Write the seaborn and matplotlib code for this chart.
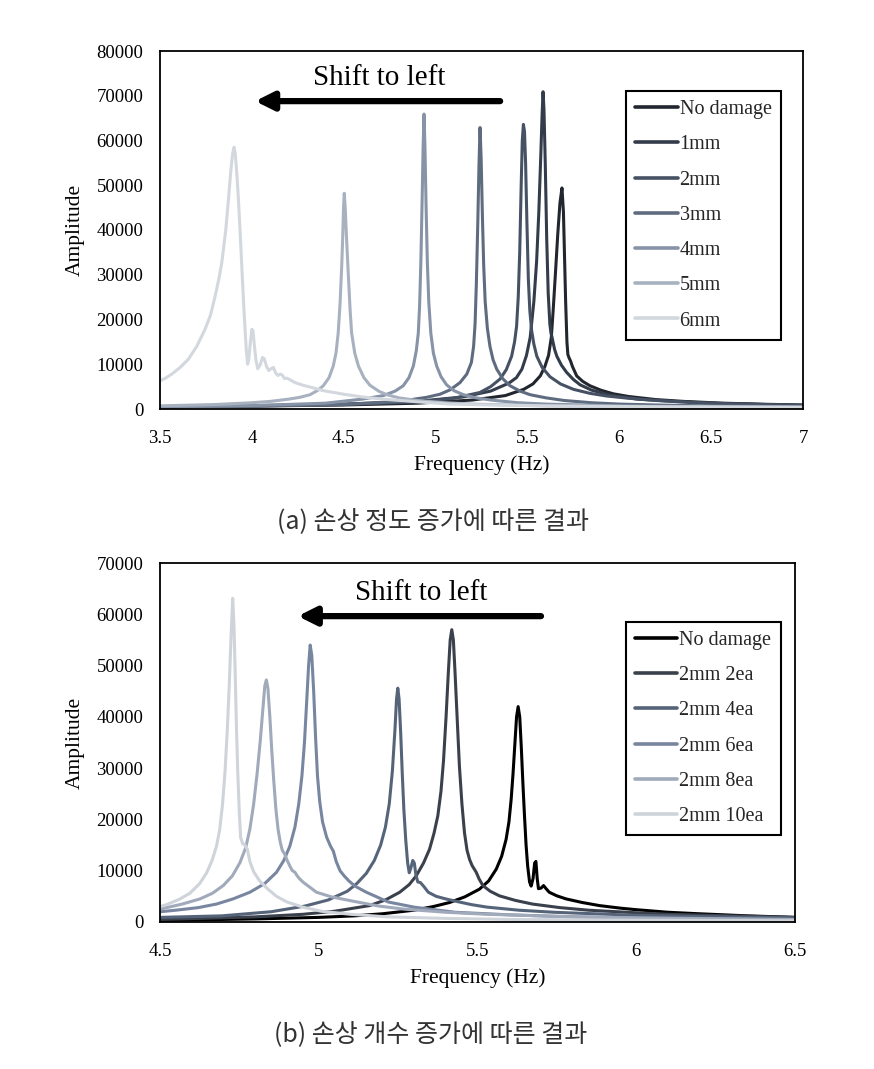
import numpy as np
import pandas as pd
import matplotlib
matplotlib.use("Agg")
import matplotlib.pyplot as plt
from matplotlib.lines import Line2D
import seaborn as sns

# ---------------- data: (a) damage size ----------------
a_names = ["No damage", "1mm", "2mm", "3mm", "4mm", "5mm", "6mm"]

a_nd_f = [3.5, 4.0, 4.5, 4.9, 5.2, 5.38, 5.48, 5.53, 5.57, 5.595, 5.615, 5.63, 5.64, 5.652, 5.665, 5.677, 5.688, 5.696, 5.702, 5.708, 5.715, 5.72, 5.726, 5.735, 5.745, 5.768, 5.8, 5.84, 5.9, 5.967, 6.05, 6.2, 6.35, 6.565, 6.8, 7.0]
a_nd_a = [500, 650, 900, 1300, 2000, 3000, 4400, 5600, 7400, 9500, 12000, 16000, 22000, 30000, 39000, 46000, 49400, 44000, 34000, 24000, 15000, 12200, 11500, 10700, 9500, 7400, 6200, 5200, 4200, 3400, 2800, 2100, 1700, 1300, 1050, 900]

a_1_f = [3.5, 4.0, 4.5, 4.9, 5.15, 5.3, 5.4, 5.44, 5.47, 5.495, 5.515, 5.535, 5.55, 5.562, 5.573, 5.58, 5.585, 5.59, 5.597, 5.605, 5.613, 5.622, 5.628, 5.633, 5.638, 5.648, 5.66, 5.685, 5.713, 5.75, 5.787, 5.85, 5.95, 6.1, 6.3, 6.5, 7.0]
a_1_a = [550, 750, 1100, 1700, 2700, 4000, 5800, 7000, 8900, 12000, 16000, 24000, 33000, 44000, 57000, 66000, 70900, 67000, 55000, 38000, 26000, 19000, 17000, 16200, 15200, 13300, 11800, 9800, 8200, 6600, 5400, 4200, 3100, 2200, 1700, 1300, 800]

a_2_f = [3.5, 4.0, 4.5, 4.9, 5.1, 5.242, 5.3, 5.351, 5.385, 5.414, 5.43, 5.441, 5.45, 5.458, 5.466, 5.472, 5.478, 5.484, 5.49, 5.497, 5.505, 5.513, 5.523, 5.535, 5.551, 5.58, 5.623, 5.68, 5.75, 5.84, 5.932, 6.05, 6.2, 6.4, 6.6, 7.0]
a_2_a = [500, 700, 1000, 1600, 2400, 3700, 5000, 6700, 8800, 11800, 15000, 18500, 25000, 35000, 50000, 60000, 63600, 62000, 55000, 42000, 29000, 22000, 17500, 14500, 11800, 9300, 7200, 5600, 4400, 3500, 2900, 2400, 1900, 1450, 1150, 800]

a_3_f = [3.5, 4.0, 4.5, 4.8, 4.95, 5.024, 5.08, 5.133, 5.17, 5.195, 5.207, 5.215, 5.222, 5.23, 5.236, 5.242, 5.248, 5.255, 5.262, 5.27, 5.282, 5.296, 5.313, 5.333, 5.365, 5.405, 5.46, 5.514, 5.6, 5.7, 5.85, 6.0, 6.25, 6.5, 7.0]
a_3_a = [450, 650, 1000, 1700, 2600, 3300, 4300, 5900, 7800, 10400, 14000, 19000, 28000, 42000, 54000, 62900, 56000, 43000, 32000, 24000, 18000, 14000, 11000, 8900, 6800, 5200, 4000, 3200, 2500, 1900, 1400, 1100, 850, 700, 500]

a_4_f = [3.5, 4.0, 4.4, 4.6, 4.716, 4.78, 4.824, 4.855, 4.879, 4.895, 4.906, 4.913, 4.92, 4.927, 4.932, 4.937, 4.942, 4.948, 4.955, 4.963, 4.974, 4.988, 5.006, 5.03, 5.06, 5.1, 5.151, 5.22, 5.3, 5.45, 5.6, 6.0, 6.5, 7.0]
a_4_a = [500, 750, 1300, 2200, 3000, 4000, 5200, 7000, 9600, 13000, 17000, 23000, 33000, 47000, 58000, 65900, 59000, 46000, 33000, 24000, 17000, 12500, 9600, 7200, 5400, 4100, 3200, 2500, 2000, 1400, 1100, 700, 500, 400]

a_5_f = [3.5, 3.8, 4.0, 4.1, 4.2, 4.26, 4.317, 4.36, 4.389, 4.42, 4.443, 4.458, 4.47, 4.48, 4.489, 4.495, 4.499, 4.503, 4.508, 4.515, 4.525, 4.535, 4.543, 4.56, 4.58, 4.61, 4.643, 4.69, 4.734, 4.8, 4.9, 5.05, 5.2, 5.6, 6.2, 7.0]
a_5_a = [700, 1000, 1400, 1700, 2200, 2600, 3200, 4200, 5200, 7000, 9600, 12500, 17000, 23500, 31800, 39000, 45000, 48200, 45000, 38500, 30000, 22000, 17000, 12500, 9600, 7000, 5300, 4000, 3200, 2500, 1900, 1400, 1100, 700, 500, 350]

a_6_f = [3.5, 3.53, 3.564, 3.61, 3.654, 3.7, 3.745, 3.775, 3.8, 3.82, 3.836, 3.858, 3.872, 3.885, 3.895, 3.903, 3.91, 3.92, 3.928, 3.935, 3.948, 3.956, 3.963, 3.97, 3.977, 3.983, 3.992, 4.0, 4.006, 4.013, 4.022, 4.032, 4.045, 4.058, 4.068, 4.08, 4.092, 4.105, 4.117, 4.13, 4.142, 4.155, 4.165, 4.178, 4.19, 4.2, 4.235, 4.28, 4.326, 4.389, 4.5, 4.6, 4.716, 4.9, 5.08, 5.3, 5.6, 6.2, 7.0]
a_6_a = [6300, 6900, 7800, 9300, 11100, 14000, 17800, 21000, 25200, 29000, 32600, 40000, 46500, 53000, 57000, 58500, 57000, 51500, 46000, 40500, 29500, 23000, 17800, 13000, 10000, 11000, 15000, 17800, 17500, 14500, 11000, 9000, 9800, 11500, 11200, 9500, 8600, 9000, 9300, 8000, 7500, 7800, 7600, 6800, 6900, 6700, 5900, 5300, 4800, 4100, 3300, 2700, 2200, 1600, 1100, 900, 700, 500, 400]

# ---------------- data: (b) damage count ----------------
b_names = ["No damage", "2mm 2ea", "2mm 4ea", "2mm 6ea", "2mm 8ea", "2mm 10ea"]

b_nd_f = [4.5, 4.8, 5.0, 5.113, 5.2, 5.3, 5.36, 5.412, 5.46, 5.506, 5.535, 5.559, 5.576, 5.59, 5.599, 5.606, 5.612, 5.618, 5.623, 5.628, 5.633, 5.638, 5.643, 5.648, 5.653, 5.658, 5.664, 5.669, 5.675, 5.68, 5.684, 5.688, 5.692, 5.7, 5.708, 5.716, 5.726, 5.75, 5.779, 5.83, 5.884, 5.95, 6.0, 6.1, 6.2, 6.35, 6.5]
b_nd_a = [300, 600, 900, 1200, 1600, 2300, 3000, 3800, 4900, 6400, 8000, 10300, 12800, 16100, 19500, 23900, 29000, 35000, 40000, 42000, 40000, 34000, 27000, 20700, 15000, 10900, 7800, 7000, 8500, 11500, 11800, 8500, 6500, 6600, 7100, 6500, 5800, 5100, 4500, 3800, 3200, 2700, 2400, 1900, 1600, 1200, 900]

b_2_f = [4.5, 4.8, 4.95, 5.05, 5.16, 5.21, 5.255, 5.285, 5.307, 5.33, 5.349, 5.363, 5.375, 5.385, 5.393, 5.401, 5.408, 5.414, 5.419, 5.424, 5.429, 5.435, 5.443, 5.451, 5.459, 5.467, 5.475, 5.483, 5.49, 5.496, 5.505, 5.517, 5.54, 5.569, 5.62, 5.673, 5.76, 5.85, 6.0, 6.1, 6.3, 6.5]
b_2_a = [500, 1000, 1500, 2100, 3200, 4300, 5800, 7300, 9000, 11500, 14200, 17300, 20700, 25500, 31500, 40000, 48500, 55000, 57000, 55000, 49000, 41000, 30400, 23000, 17400, 14000, 12200, 11000, 10300, 9700, 8400, 7100, 6000, 5100, 4200, 3500, 2800, 2300, 1800, 1500, 1200, 900]

b_4_f = [4.5, 4.695, 4.85, 4.956, 5.03, 5.09, 5.12, 5.15, 5.175, 5.195, 5.21, 5.222, 5.232, 5.24, 5.245, 5.249, 5.253, 5.258, 5.263, 5.268, 5.274, 5.28, 5.285, 5.29, 5.296, 5.301, 5.306, 5.312, 5.32, 5.33, 5.345, 5.37, 5.4, 5.428, 5.48, 5.53, 5.63, 5.74, 6.0, 6.25, 6.5]
b_4_a = [900, 1200, 2000, 3100, 4300, 6000, 7500, 9500, 12000, 15000, 18500, 23000, 29500, 37500, 43500, 45600, 43500, 37000, 29000, 22000, 16000, 11500, 9600, 10500, 12000, 11500, 9200, 7800, 7700, 7000, 5800, 5000, 4500, 4100, 3400, 2900, 2300, 1900, 1300, 1000, 800]

b_6_f = [4.5, 4.55, 4.62, 4.678, 4.73, 4.783, 4.83, 4.867, 4.89, 4.909, 4.925, 4.937, 4.947, 4.955, 4.962, 4.968, 4.973, 4.978, 4.984, 4.99, 4.996, 5.003, 5.012, 5.025, 5.037, 5.046, 5.055, 5.067, 5.08, 5.095, 5.114, 5.15, 5.219, 5.3, 5.429, 5.6, 5.8, 6.2, 6.5]
b_6_a = [2000, 2300, 2800, 3500, 4500, 5800, 7500, 9700, 12000, 14800, 18500, 23000, 28500, 35000, 43000, 50000, 54000, 52000, 45000, 36000, 28500, 23500, 19500, 16500, 14800, 13800, 11800, 10000, 9000, 8000, 7000, 5800, 3900, 2900, 1900, 1400, 1000, 600, 450]

b_8_f = [4.5, 4.521, 4.57, 4.626, 4.665, 4.699, 4.728, 4.752, 4.77, 4.783, 4.795, 4.806, 4.816, 4.824, 4.83, 4.835, 4.84, 4.846, 4.852, 4.858, 4.865, 4.872, 4.879, 4.885, 4.893, 4.9, 4.909, 4.917, 4.925, 4.932, 4.94, 4.952, 4.965, 4.993, 5.04, 5.113, 5.19, 5.27, 5.4, 5.53, 5.75, 6.0, 6.5]
b_8_a = [2500, 2800, 3500, 4500, 5600, 7100, 9000, 11600, 14500, 18100, 23000, 29000, 35500, 41500, 46000, 47200, 45500, 40000, 33500, 27800, 22000, 18000, 15500, 14000, 13200, 12100, 10900, 10000, 9700, 9000, 8400, 7700, 7100, 5800, 4900, 4000, 3100, 2500, 1900, 1500, 1100, 800, 500]

b_10_f = [4.5, 4.521, 4.56, 4.594, 4.625, 4.647, 4.664, 4.678, 4.688, 4.697, 4.705, 4.712, 4.718, 4.724, 4.729, 4.733, 4.737, 4.741, 4.745, 4.75, 4.754, 4.76, 4.767, 4.775, 4.783, 4.795, 4.814, 4.84, 4.867, 4.9, 4.95, 5.008, 5.1, 5.217, 5.4, 5.6, 6.0, 6.5]
b_10_a = [3000, 3400, 4400, 5600, 7500, 9600, 12000, 14800, 18000, 23000, 29500, 37500, 46000, 56000, 63100, 58000, 48000, 37500, 29000, 21000, 16500, 15300, 15000, 14200, 11800, 9800, 8000, 6400, 5000, 3900, 2900, 2100, 1500, 1000, 700, 500, 350, 250]

# axis ticks
a_xticks = [3.5, 4, 4.5, 5, 5.5, 6, 6.5, 7]
a_xlabels = ["3.5", "4", "4.5", "5", "5.5", "6", "6.5", "7"]
a_yticks = [0, 10000, 20000, 30000, 40000, 50000, 60000, 70000, 80000]
b_xticks = [4.5, 5, 5.5, 6, 6.5]
b_xlabels = ["4.5", "5", "5.5", "6", "6.5"]
b_yticks = [0, 10000, 20000, 30000, 40000, 50000, 60000, 70000]

captions = ["(a) 손상 정도 증가에 따른 결과", "(b) 손상 개수 증가에 따른 결과"]

# ---------------- styling ----------------
a_colors = ["#22262e", "#333c4a", "#465264", "#5f6c80", "#8793a6", "#a8b1bf", "#d3d7de"]
b_colors = ["#000000", "#3b414c", "#56647a", "#7886a0", "#a0aabb", "#cfd3da"]

sns.set_theme(style="white")
plt.rcParams["font.family"] = ["Liberation Serif", "DejaVu Serif"]
plt.rcParams["axes.unicode_minus"] = False


def long_df(names, fs, amps):
    rows = []
    for n, f, a in zip(names, fs, amps):
        rows.append(pd.DataFrame({"series": n, "freq": f, "amp": a}))
    return pd.concat(rows, ignore_index=True)


df_a = long_df(a_names,
               [a_nd_f, a_1_f, a_2_f, a_3_f, a_4_f, a_5_f, a_6_f],
               [a_nd_a, a_1_a, a_2_a, a_3_a, a_4_a, a_5_a, a_6_a])
df_b = long_df(b_names,
               [b_nd_f, b_2_f, b_4_f, b_6_f, b_8_f, b_10_f],
               [b_nd_a, b_2_a, b_4_a, b_6_a, b_8_a, b_10_a])

W, H = 874, 1069
fig = plt.figure(figsize=(W / 100, H / 100), dpi=100)
fig.patch.set_facecolor("white")
ax1 = fig.add_axes([160 / W, 1 - 409 / H, 643 / W, 358 / H])
ax2 = fig.add_axes([160 / W, 1 - 922 / H, 635 / W, 359 / H])


def draw(ax, df, names, colors, xticks, xlabels, yticks, legend_anchor,
         arrow_x, arrow_y, text_xy, ylab_x):
    pal = dict(zip(names, colors))
    sns.lineplot(data=df, x="freq", y="amp", hue="series", hue_order=names,
                 palette=pal, estimator=None, sort=False, lw=2.2, ax=ax,
                 legend=False)
    for ln in ax.get_lines():
        ln.set_solid_joinstyle("round")
        ln.set_solid_capstyle("round")
    ax.set_xlim(xticks[0], xticks[-1])
    ax.set_ylim(yticks[0], yticks[-1])
    ax.set_xticks(xticks)
    ax.set_xticklabels(xlabels)
    ax.set_yticks(yticks)
    ax.set_yticklabels([str(v) for v in yticks])
    ax.tick_params(axis="both", length=0, labelsize=13.5, colors="black")
    ax.tick_params(axis="y", pad=12)
    ax.tick_params(axis="x", pad=15)
    for s in ax.spines.values():
        s.set_visible(True)
        s.set_color("black")
        s.set_linewidth(1.3)
    ax.set_facecolor("white")
    ax.grid(False)
    ax.set_xlabel("Frequency (Hz)", fontsize=15.5, color="black")
    ax.set_ylabel("Amplitude", fontsize=15.5, color="black")
    ax.xaxis.set_label_coords(0.5, -0.128)
    ax.yaxis.set_label_coords(ylab_x, 0.5)

    handles = [Line2D([0], [0], color=c, lw=2.6) for c in colors]
    leg = ax.legend(handles, names, loc="upper left",
                    bbox_to_anchor=legend_anchor, frameon=True,
                    fancybox=False, shadow=False, fontsize=14.5,
                    handlelength=2.1, handletextpad=0.1,
                    labelspacing=0.8, borderpad=0.45, borderaxespad=0)
    fr = leg.get_frame()
    fr.set_edgecolor("black")
    fr.set_linewidth(1.5)
    fr.set_alpha(1)

    ax.annotate("", xy=(arrow_x[0], arrow_y), xytext=(arrow_x[1], arrow_y),
                xycoords="axes fraction", textcoords="axes fraction",
                arrowprops=dict(arrowstyle="-|>,head_length=0.9,head_width=0.45",
                                lw=4.5, color="black", shrinkA=0, shrinkB=0))
    ax.text(text_xy[0], text_xy[1], "Shift to left", transform=ax.transAxes,
            ha="center", va="center", fontsize=21, color="black")


draw(ax1, df_a, a_names, a_colors, a_xticks, a_xlabels, a_yticks,
     (0.725, 0.888), (0.148, 0.529), 0.860, (0.341, 0.925), -0.117)
draw(ax2, df_b, b_names, b_colors, b_xticks, b_xlabels, b_yticks,
     (0.734, 0.836), (0.217, 0.600), 0.852, (0.411, 0.916), -0.118)

cap_font = ["Noto Sans CJK KR", "DejaVu Sans"]
fig.text(433 / W, 1 - 522 / H, captions[0], ha="center", va="center",
         family=cap_font, fontsize=18, color="#333333")
fig.text(431 / W, 1 - 1035 / H, captions[1], ha="center", va="center",
         family=cap_font, fontsize=18, color="#333333")

fig.savefig("out.png", dpi=100, facecolor="white")
